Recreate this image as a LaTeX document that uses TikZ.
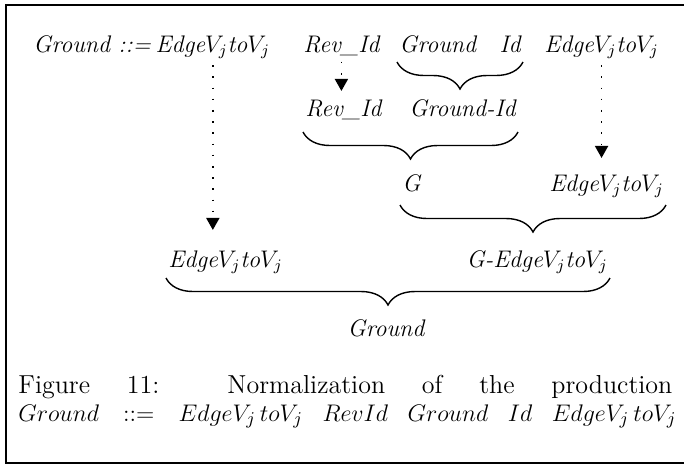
\documentclass[tikz,border=0pt]{standalone}
\usepackage{tikz}
\usetikzlibrary{arrows.meta, positioning, decorations.pathreplacing}
\usepackage{amsmath}

\newcommand{\edgevv}{Edge$V_j$to$V_j$}

\begin{document}
\begin{tikzpicture}[
    x=0.5pt, y=-0.5pt,
    term/.style={inner sep=1pt, font=\fontsize{12}{14}\selectfont\itshape},
    capt/.style={inner sep=0pt, anchor=base west, font=\fontsize{13}{15}\selectfont},
    brc/.style={decorate, decoration={brace, mirror, amplitude=13.5pt}, line width=0.7pt},
    flow/.style={line width=0.9pt, dash pattern=on 0.8pt off 4.8pt,
                 -{Triangle[width=6.5pt, length=6pt]}},
    frame/.style={line width=0.8pt}
]
\useasboundingbox (0,0) rectangle (684,468);
\draw[frame] (684,5) -- (6,5) -- (6,463) -- (684,463);

\node[term, anchor=base west] (gnd1) at (31,52) {Ground ::=};
\node[term, base right=0pt of gnd1] (ev1) {\edgevv};
\node[term, anchor=base west] (rev1) at (301,52) {Rev\_Id};
\node[term, anchor=base west] (gr1) at (397,52) {Ground};
\node[term, anchor=base east] (id1) at (523,52) {Id};
\node[term, anchor=base west] (ev2) at (542,52) {\edgevv};

\node[term, anchor=base west] (rev2) at (303,116) {Rev\_Id};
\node[term, anchor=base east] (gid2) at (518,116) {Ground-Id};

\node[term, anchor=base west] (g3) at (400,191) {G};
\node[term, anchor=base east] (ev3) at (666,191) {\edgevv};

\node[term, anchor=base west] (ev4) at (166,267) {\edgevv};
\node[term, anchor=base east] (gev4) at (610,267) {G-\edgevv};

\node[term, anchor=base] (gnd5) at (386,336) {Ground};

\node[capt] (cap1) at (18,393) {\makebox[327pt][s]{Figure 11: Normalization of the production}};
\node[capt] (cap2) at (18,421) {\makebox[329pt][s]{$Ground ::= EdgeV_j\,toV_j$ $RevId$ $Ground$ $Id$ $EdgeV_j\,toV_j$}};

\draw[flow, shorten <=2pt, shorten >=9pt] (ev1.south) -- (ev1.south |- ev4.north);
\draw[flow, shorten <=2pt, shorten >=3pt] (rev1.south) -- (rev1.south |- rev2.north);
\draw[flow, shorten <=2pt, shorten >=7pt] (ev2.south) -- (ev2.south |- ev3.north);

\draw[brc] ([yshift=-5pt]gr1.base west) -- ([yshift=-5pt]id1.base east);
\draw[brc] ([yshift=-8pt]rev2.base west) -- ([yshift=-8pt]gid2.base east);
\draw[brc] ([yshift=-7pt]g3.base west) -- ([yshift=-7pt]ev3.base east);
\draw[brc] ([yshift=-5.5pt]ev4.base west) -- ([yshift=-5.5pt]gev4.base east);
\end{tikzpicture}
\end{document}
